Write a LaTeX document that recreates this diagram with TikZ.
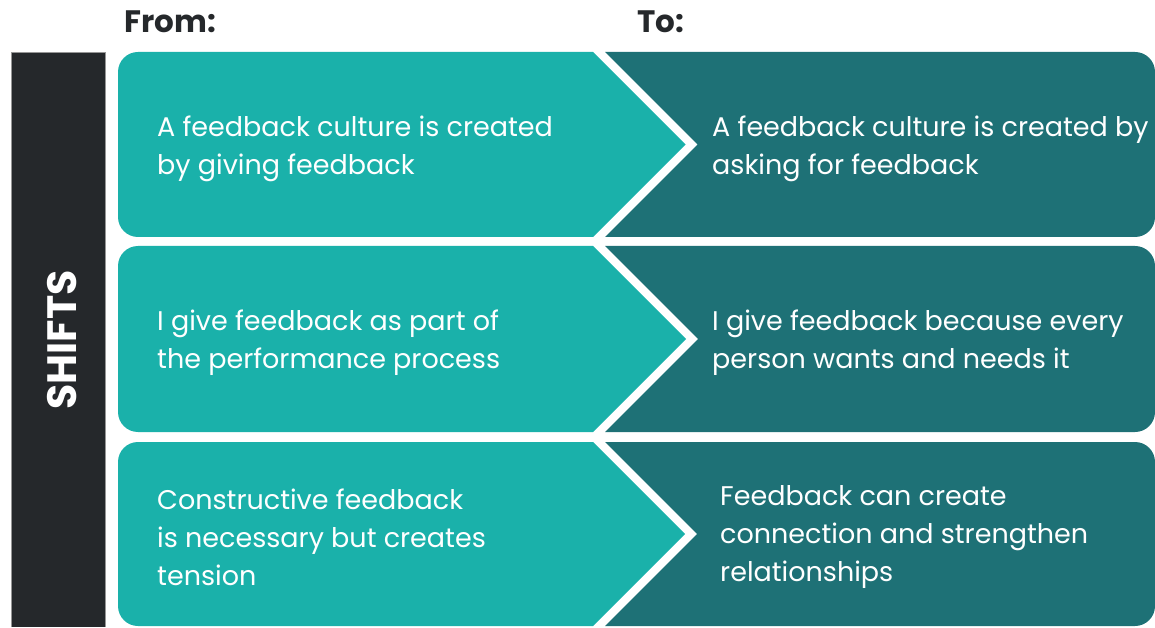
\documentclass[tikz,border=0pt]{standalone}
\usepackage{fontspec}
\setmainfont{Poppins}
\definecolor{lightteal}{RGB}{26,177,170}
\definecolor{darkteal}{RGB}{30,113,118}
\definecolor{darkbar}{RGB}{37,40,43}
\definecolor{barline}{RGB}{150,150,150}
\tikzset{
  bodytext/.style={anchor=west, inner sep=0pt, align=left, text=white, font=\fontsize{27}{38}\selectfont},
  headtext/.style={anchor=base west, inner sep=0pt, text=darkbar, font=\bfseries\fontsize{31}{36}\selectfont},
}
\begin{document}
\begin{tikzpicture}[x=1pt,y=1pt]
\useasboundingbox (0,0) rectangle (1155,627);
% side bar
\fill[darkbar] (11,0) rectangle (105,574);
\draw[barline, line width=1pt] (11,0) -- (11,574) -- (105,574) -- (105,0);
\node[rotate=90, text=white, font=\bfseries\fontsize{41}{44}\selectfont, inner sep=0pt] (shifts) at (62,287) {SHIFTS};
% headers
\node[headtext] (from) at (124,594) {From:};
\node[headtext] (to) at (637,594) {To:};
% rows
\foreach \T/\B in {575/390, 381/195, 185/1}{
  \pgfmathsetmacro{\C}{(\T+\B)/2}
  \pgfmathsetmacro{\H}{(\T-\B)/2}
  \fill[lightteal] (593,\T) -- (138,\T) arc[start angle=90,end angle=180,radius=20pt]
     -- (118,\B+20) arc[start angle=180,end angle=270,radius=20pt]
     -- (593,\B) -- (593+\H,\C) -- cycle;
  \fill[darkteal] (605,\T) -- (1135,\T) arc[start angle=90,end angle=0,radius=20pt]
     -- (1155,\B+20) arc[start angle=0,end angle=-90,radius=20pt]
     -- (605,\B) -- (605+\H,\C) -- cycle;
}
% texts
\node[bodytext] (f1) at (157,478) {A feedback culture is created\\by giving feedback};
\node[bodytext] (t1) at (712,478) {A feedback culture is created by\\asking for feedback};
\node[bodytext] (f2) at (157,284) {I give feedback as part of\\the performance process};
\node[bodytext] (t2) at (712,284) {I give feedback because every\\person wants and needs it};
\node[bodytext] (f3) at (157,90) {Constructive feedback\\is necessary but creates\\tension};
\node[bodytext] (t3) at (720,90) {Feedback can create\\connection and strengthen\\relationships};
\end{tikzpicture}
\end{document}
